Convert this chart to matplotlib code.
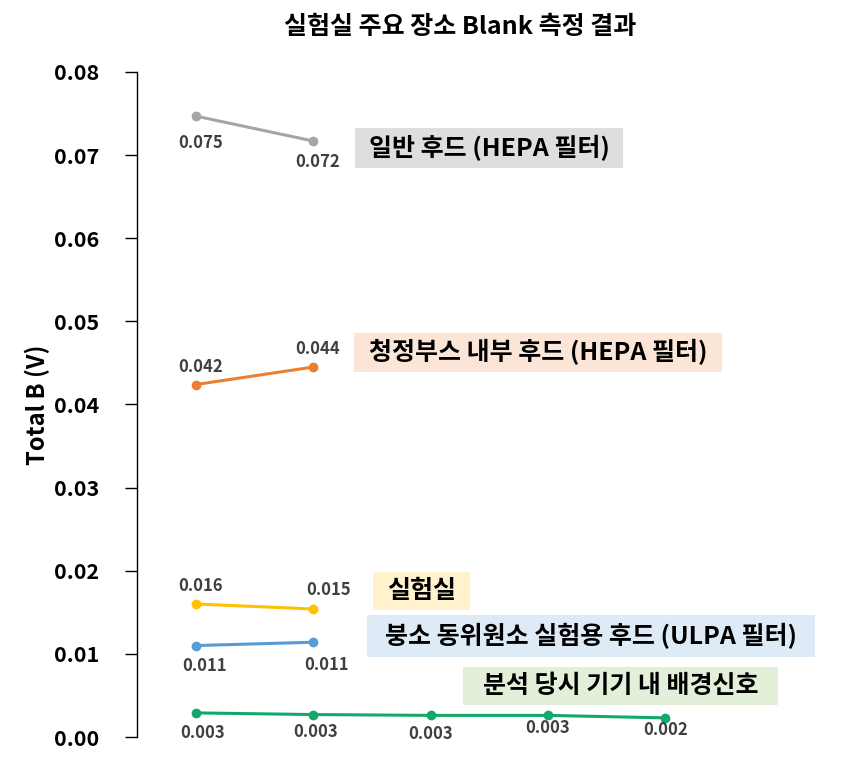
import matplotlib
matplotlib.use("Agg")
import matplotlib.pyplot as plt
from matplotlib.patches import Rectangle

plt.rcParams['font.family'] = ['Noto Sans CJK KR', 'DejaVu Sans']

# 측정 위치 (x 축 순번)
positions = [1, 2, 3, 4, 5]

# 각 장소별 Total B (V)
general_hood = [0.0747, 0.0717]
clean_booth = [0.0424, 0.0445]
lab_room = [0.0160, 0.0154]
ulpa_hood = [0.0110, 0.0114]
instrument_bg = [0.0029, 0.0027, 0.0026, 0.0026, 0.0023]

series_names = ['일반 후드 (HEPA 필터)', '청정부스 내부 후드 (HEPA 필터)', '실험실',
                '붕소 동위원소 실험용 후드 (ULPA 필터)', '분석 당시 기기 내 배경신호']
title = '실험실 주요 장소 Blank 측정 결과'
y_ticks = [0.00, 0.01, 0.02, 0.03, 0.04, 0.05, 0.06, 0.07, 0.08]

# 스타일
line_colors = ['#A5A5A5', '#ED7D31', '#FFC000', '#5B9BD5', '#12A86A']
box_colors = ['#DEDEDE', '#FBE5D6', '#FFF2CC', '#DEEBF7', '#E2F0D9']
# 라벨 오프셋 (픽셀)
label_offsets = [
    [(5, -27), (5, -21)],
    [(5, 18), (5, 18)],
    [(5, 18), (15, 19)],
    [(9, -20), (13, -23)],
    [(7, -20), (2, -17), (0, -19), (0, -13), (0, -12)],
]
# 상자 (왼, 위, 오른, 아래) 픽셀
box_extents = [(355, 128, 623, 168), (354, 333, 722, 372), (373, 572, 470, 610),
               (367, 615, 815, 657), (463, 667, 778, 705)]

W, H = 842, 782
fig = plt.figure(figsize=(W / 100, H / 100), dpi=100)
ax = fig.add_axes([137 / W, 1 - 737 / H, (724 - 137) / W, (737 - 72) / H])

all_series = [general_hood, clean_booth, lab_room, ulpa_hood, instrument_bg]
for vals, color, offs in zip(all_series, line_colors, label_offsets):
    xs = positions[:len(vals)]
    ax.plot(xs, vals, color=color, lw=2.2, marker='o', ms=6, zorder=3)
    for x, v, off in zip(xs, vals, offs):
        ax.annotate(f'{v:.3f}', (x, v), xytext=off, textcoords='offset pixels',
                    ha='center', va='center', fontsize=12, fontweight='bold',
                    color='#404040')

for name, bc, (l, t, r, b) in zip(series_names, box_colors, box_extents):
    fig.add_artist(Rectangle((l / W, 1 - b / H), (r - l) / W, (b - t) / H,
                             transform=fig.transFigure, fc=bc, ec='none'))
    fig.text((l + r) / 2 / W, 1 - (t + b) / 2 / H, name, ha='center', va='center',
             fontsize=18, fontweight='bold', color='black')

ax.set_xlim(0.5, 5.5)
ax.set_ylim(0, 0.08)
ax.set_yticks(y_ticks)
ax.set_yticklabels([f'{t:.2f}' for t in y_ticks], fontsize=15.5, fontweight='bold')
ax.tick_params(axis='y', direction='out', length=9, width=1, pad=18)
ax.set_xticks([])
for side in ['top', 'right', 'bottom']:
    ax.spines[side].set_visible(False)
ax.spines['left'].set_linewidth(1)
ax.set_ylabel('Total B (V)', fontsize=17, fontweight='bold', labelpad=3)

fig.text(460 / W, 1 - 27 / H, title, ha='center', va='center', fontsize=18,
         fontweight='bold')

fig.savefig('out.png', dpi=100)
